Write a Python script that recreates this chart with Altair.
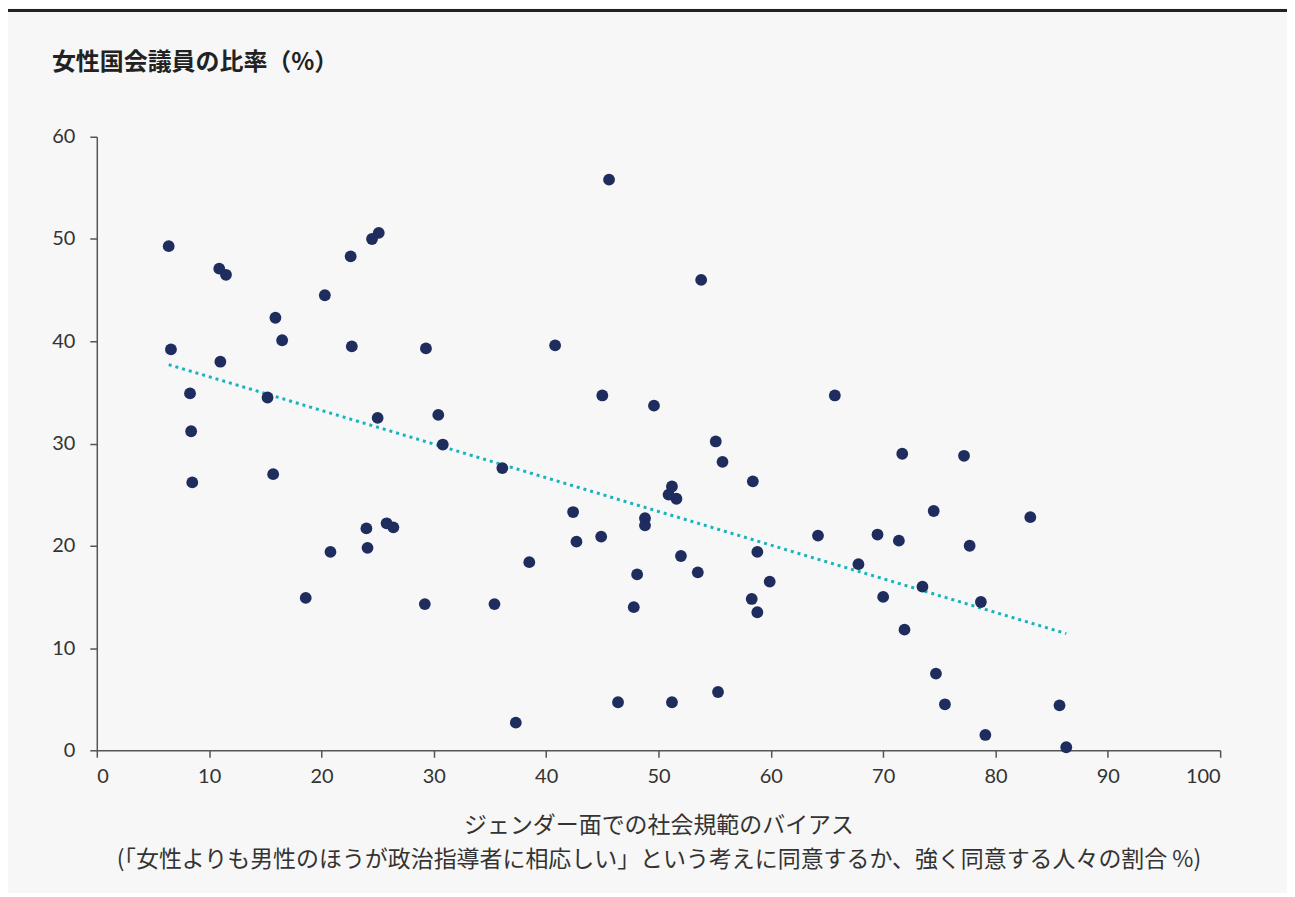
import altair as alt
import pandas as pd

bias = [6.4, 6.6, 8.3, 8.4, 8.5, 10.9, 11.5, 11.0, 15.2, 15.7, 15.9, 16.5, 18.6, 20.3, 20.8,
        22.6, 22.7, 24.0, 24.1, 24.5, 25.1, 25.0, 25.8, 26.4, 29.2, 29.3, 30.4, 30.8, 35.4, 36.1,
        37.3, 38.5, 40.8, 42.4, 42.7, 44.9, 45.0, 45.6, 46.4, 47.8, 48.1, 48.8, 48.8, 49.6, 50.9,
        51.2, 51.6, 51.2, 52.0, 53.5, 53.8, 55.1, 55.3, 55.7, 58.3, 58.4, 58.8, 58.8, 59.9, 64.2,
        65.7, 67.8, 69.5, 70.0, 71.4, 71.7, 71.9, 73.5, 74.5, 74.7, 75.5, 77.2, 77.7, 78.7, 79.1,
        83.1, 85.7, 86.3]
women = [49.3, 39.2, 34.9, 31.2, 26.2, 47.1, 46.5, 38.0, 34.5, 27.0, 42.3, 40.1, 14.9, 44.5, 19.4,
         48.3, 39.5, 21.7, 19.8, 50.0, 50.6, 32.5, 22.2, 21.8, 14.3, 39.3, 32.8, 29.9, 14.3, 27.6,
         2.7, 18.4, 39.6, 23.3, 20.4, 20.9, 34.7, 55.8, 4.7, 14.0, 17.2, 22.7, 22.0, 33.7, 25.0,
         25.8, 24.6, 4.7, 19.0, 17.4, 46.0, 30.2, 5.7, 28.2, 14.8, 26.3, 19.4, 13.5, 16.5, 21.0,
         34.7, 18.2, 21.1, 15.0, 20.5, 29.0, 11.8, 16.0, 23.4, 7.5, 4.5, 28.8, 20.0, 14.5, 1.5,
         22.8, 4.4, 0.3]

x_ticks = [0, 10, 20, 30, 40, 50, 60, 70, 80, 90, 100]
y_ticks = [0, 10, 20, 30, 40, 50, 60]

chart_title = "女性国会議員の比率（%）"
x_title = ["ジェンダー面での社会規範のバイアス",
           "(「女性よりも男性のほうが政治指導者に相応しい」という考えに同意するか、強く同意する人々の割合 %)"]

df = pd.DataFrame({"bias": bias, "women": women})

W, H = 1126, 615
PAD = {"left": 89, "top": 128, "right": 67, "bottom": 142}

xs = alt.Scale(domain=[0, 100], nice=False)
ys = alt.Scale(domain=[0, 60], nice=False)

base = alt.Chart(df)

points = base.mark_circle(size=140, opacity=1, color="#1e2d5e").encode(
    x=alt.X("bias:Q", scale=xs,
            axis=alt.Axis(values=x_ticks, title=x_title, grid=False,
                          labelFont="Lato", labelFontSize=20, labelColor="#333333",
                          labelPadding=9, tickSize=7, tickColor="#555555",
                          domainColor="#555555", domainWidth=1.5, tickWidth=1.5,
                          titleFont="Noto Sans CJK JP", titleFontSize=23,
                          titleFontWeight="normal", titleColor="#333333",
                          titlePadding=28, titleLineHeight=34)),
    y=alt.Y("women:Q", scale=ys,
            axis=alt.Axis(values=y_ticks, title=None, grid=False,
                          labelFont="Lato", labelFontSize=20, labelColor="#333333",
                          labelPadding=15, tickSize=7, tickColor="#555555",
                          domainColor="#555555", domainWidth=1.5, tickWidth=1.5)),
)

trend = base.transform_regression("bias", "women").mark_line(
    color="#1ab3bc", strokeWidth=3, strokeDash=[3, 4]
).encode(x=alt.X("bias:Q", scale=xs), y=alt.Y("women:Q", scale=ys))

title_df = pd.DataFrame({"t": [chart_title]})
title_mark = alt.Chart(title_df).mark_text(
    align="left", baseline="middle", font="Noto Sans CJK JP", fontSize=24,
    fontWeight="bold", color="#222222"
).encode(x=alt.value(-45), y=alt.value(-74), text="t:N")

top_rule = alt.Chart(title_df).mark_rule(color="#222222", strokeWidth=3).encode(
    x=alt.value(-PAD["left"]), x2=alt.value(W + PAD["right"]), y=alt.value(-PAD["top"] + 1.5)
)

chart = alt.layer(trend, points, title_mark, top_rule).properties(
    width=W, height=H, padding=PAD, autosize=alt.AutoSizeParams(type="none"),
    background="#f7f7f7"
).configure_view(stroke=None)

chart.save("out.html", embed_options={"renderer": "svg", "actions": False})
